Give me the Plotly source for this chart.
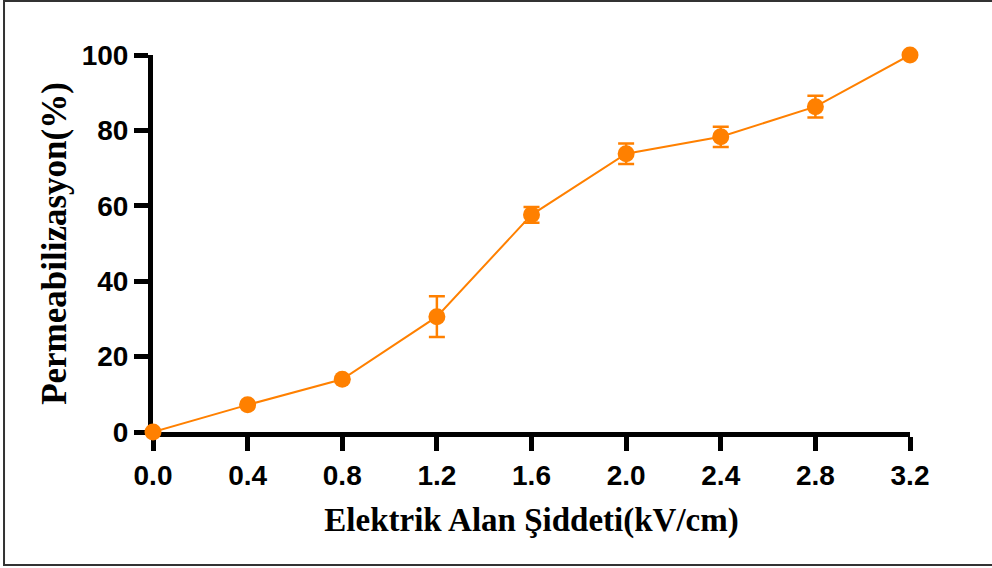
import plotly.graph_objects as go

# Electric field strength (kV/cm) and permeabilization (%) with error
field_kv_cm = [0.0, 0.4, 0.8, 1.2, 1.6, 2.0, 2.4, 2.8, 3.2]
permeabilization = [0.0, 7.2, 14.0, 30.6, 57.6, 73.8, 78.3, 86.3, 100.0]
error = [0.0, 0.0, 0.0, 5.4, 2.1, 2.7, 2.7, 2.9, 0.0]

x_ticks = [0.0, 0.4, 0.8, 1.2, 1.6, 2.0, 2.4, 2.8, 3.2]
x_tick_text = ["0.0", "0.4", "0.8", "1.2", "1.6", "2.0", "2.4", "2.8", "3.2"]
y_ticks = [0, 20, 40, 60, 80, 100]

orange = "#FF8000"

fig = go.Figure()
fig.add_trace(go.Scatter(
    x=field_kv_cm,
    y=permeabilization,
    mode="lines+markers",
    line=dict(color=orange, width=2),
    marker=dict(color=orange, size=17),
    error_y=dict(type="data", array=error, visible=True,
                 color=orange, thickness=2.5, width=8),
    cliponaxis=False,
    showlegend=False,
))

axis_common = dict(
    showgrid=False,
    zeroline=False,
    showline=True,
    linecolor="black",
    linewidth=5,
    ticks="outside",
    ticklen=14,
    tickwidth=5,
    tickcolor="black",
    layer="below traces",
    tickfont=dict(family="Liberation Sans, Arial, sans-serif", size=28,
                  color="black", weight="bold"),
)

fig.update_xaxes(
    range=[0, 3.2],
    tickvals=x_ticks,
    ticktext=x_tick_text,
    title=dict(text="<b>Elektrik Alan Şiddeti(kV/cm)</b>",
               font=dict(family="Liberation Serif, Times New Roman, serif",
                         size=33, color="black"),
               standoff=20),
    **axis_common,
)
fig.update_yaxes(
    range=[0, 100],
    tickvals=y_ticks,
    title=dict(text="<b>Permeabilizasyon(%)</b>",
               font=dict(family="Liberation Serif, Times New Roman, serif",
                         size=35, color="black"),
               standoff=6),
    **axis_common,
)

# Outer frame around the figure
fig.add_shape(type="rect", xref="paper", yref="paper",
              x0=-0.1968, x1=1.2, y0=-0.3528, y1=1.1432,
              line=dict(color="#333333", width=2), fillcolor="rgba(0,0,0,0)")

fig.update_layout(
    width=992,
    height=568,
    margin=dict(l=153, r=82, t=55, b=136),
    paper_bgcolor="white",
    plot_bgcolor="white",
)

fig.write_html("out.html")
